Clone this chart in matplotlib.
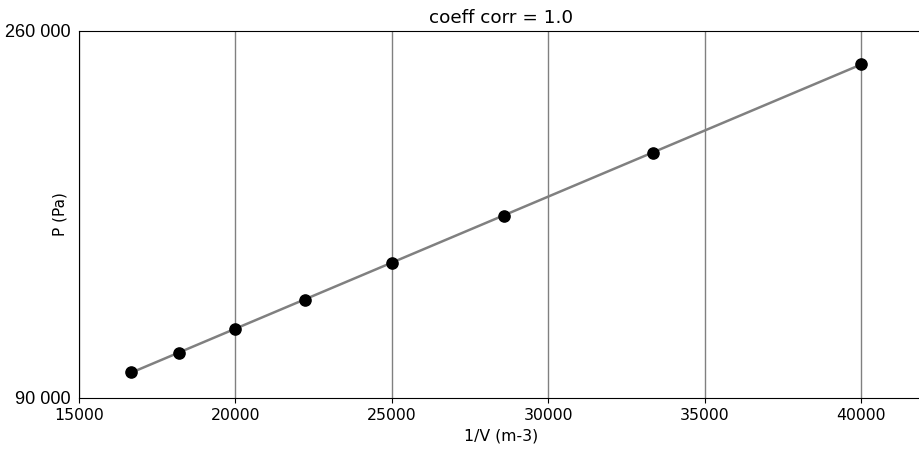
import numpy as np
import matplotlib.pyplot as plt

# 数据：1/V 与 压力
inv_v = np.array([1/60e-6, 1/55e-6, 1/50e-6, 1/45e-6, 1/40e-6, 1/35e-6, 1/30e-6, 1/25e-6])
pression = np.array([102000, 111000, 122000, 135500, 152700, 174500, 203600, 244600])

y_ticks = [90000, 260000]
y_labels = ['90 000', '260 000']

# 线性拟合
a, b = np.polyfit(inv_v, pression, 1)
r = np.corrcoef(inv_v, pression)[0, 1]

fig = plt.figure(figsize=(9.19, 4.55), dpi=100)
ax = fig.add_axes([0.086, 0.1253, 0.919, 0.8066])

xfit = np.array([inv_v.min(), inv_v.max()])
ax.plot(xfit, a*xfit + b, color='gray', lw=1.8, zorder=2)
ax.scatter(inv_v, pression, color='black', s=65, zorder=3)

ax.set_xlim(15000, 42000)
ax.set_ylim(90000, 260000)
ax.set_xticks([15000, 20000, 25000, 30000, 35000, 40000])
ax.tick_params(axis='x', labelsize=11.3)
ax.set_yticks(y_ticks)
ax.set_yticklabels(y_labels, family='Liberation Sans', fontsize=13)
ax.tick_params(axis='y', length=0, pad=6)
ax.grid(axis='x', color='gray', lw=1)
ax.set_axisbelow(True)
ax.spines['right'].set_visible(False)

ax.set_xlabel('1/V (m-3)', fontsize=11.3)
ax.set_ylabel('P (Pa)', fontsize=11)
ax.yaxis.set_label_coords(-0.014, 0.5)
ax.set_title('coeff corr = %s' % round(r, 2), fontsize=13.2)

fig.savefig('out.png', dpi=100)
